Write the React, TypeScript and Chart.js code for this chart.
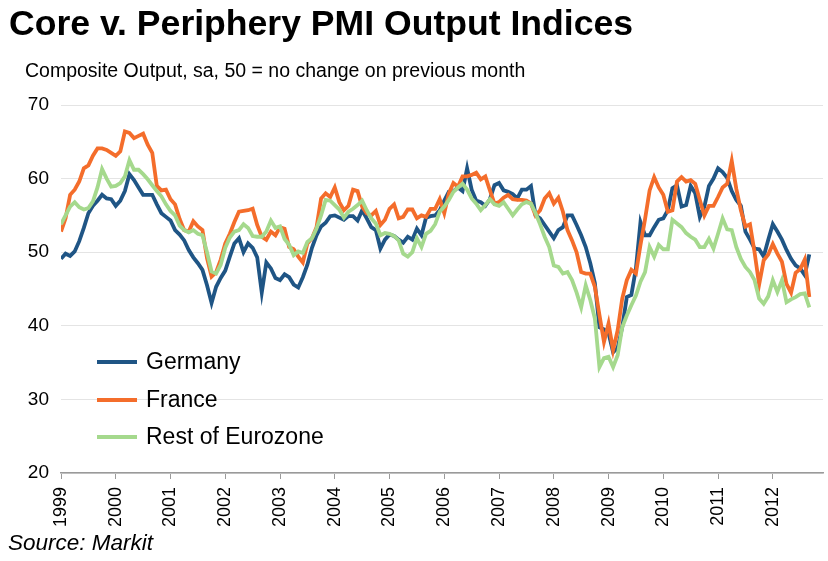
import React, { useEffect, useRef } from "react";
import { Chart, registerables } from "chart.js";

Chart.register(...registerables);

const FONT = "'Liberation Sans', Arial, Helvetica, sans-serif";

const yearLabels = ["1999", "2000", "2001", "2002", "2003", "2004", "2005", "2006", "2007", "2008", "2009", "2010", "2011", "2012"];
const seriesNames = ["Germany", "France", "Rest of Eurozone"];
const seriesColors = ["#1f5585", "#f46d2b", "#a5d98d"];

// Monthly values, Jan 1999 – Sep 2012
const germany = [
  49.1, 49.8, 49.5, 50.1, 51.5, 53.3, 55.3, 56.3, 57.0, 57.8, 57.3, 57.2,
  56.3, 57.0, 58.3, 60.6, 59.8, 58.8, 57.8, 57.8, 57.8, 56.5, 55.3, 54.8,
  54.3, 53.0, 52.4, 51.6, 50.3, 49.3, 48.5, 47.6, 45.5, 43.1, 45.3, 46.5,
  47.5, 49.4, 51.2, 51.9, 50.0, 51.2, 50.6, 49.3, 44.5, 48.6, 47.8, 46.5,
  46.2, 47.0, 46.6, 45.6, 45.2, 46.6, 48.3, 50.6, 52.3, 53.5, 54.0, 54.9,
  55.0, 54.7, 54.4, 54.9, 54.9, 54.3, 55.7, 54.6, 53.4, 53.0, 50.5, 51.7,
  52.4, 52.2, 51.7, 51.3, 52.1, 51.7, 53.2, 52.3, 54.7, 54.9, 55.0, 55.7,
  57.0, 58.2, 58.3, 58.8, 58.3, 61.4, 58.5, 57.0, 56.8, 56.3, 57.2, 59.1,
  59.4, 58.4, 58.2, 57.9, 57.3, 58.5, 58.5, 59.0, 55.0, 54.6, 53.7, 52.8,
  51.9, 53.0, 53.4, 55.0, 55.0, 53.7, 52.3, 50.7, 48.5, 45.8, 39.8, 39.5,
  39.0, 36.4, 37.0, 39.8, 43.9, 44.2, 47.8, 54.1, 52.3, 52.3, 53.4, 54.4,
  54.6, 55.7, 58.7, 59.1, 56.2, 56.4, 59.0, 58.0, 54.8, 56.2, 59.0, 60.0,
  61.4, 60.9, 60.1, 58.3, 57.1, 56.3, 52.8, 51.7, 50.5, 50.4, 49.4, 51.7,
  53.8, 52.8, 51.7, 50.3, 49.1, 48.2, 47.8, 46.9, 49.7,
];

const france = [
  52.8, 54.6, 57.8, 58.5, 59.6, 61.4, 61.8, 63.1, 64.1, 64.1, 63.9, 63.5,
  63.1, 63.7, 66.4, 66.2, 65.5, 65.8, 66.1, 64.6, 63.5, 59.0, 58.4, 58.5,
  57.2, 56.5, 54.5, 53.0, 52.8, 54.2, 53.5, 53.0, 49.2, 46.7, 47.3, 49.0,
  51.2, 52.5, 54.1, 55.5, 55.6, 55.7, 55.9, 53.7, 52.1, 51.7, 52.8, 52.3,
  53.4, 53.2, 50.7, 50.4, 49.4, 48.6, 51.2, 51.9, 53.4, 57.3, 58.0, 57.5,
  58.8, 56.8, 55.7, 56.3, 58.5, 58.3, 56.2, 55.3, 55.0, 55.6, 53.7, 54.4,
  55.9, 56.5, 54.6, 54.8, 55.8, 55.8, 54.6, 55.0, 54.8, 55.9, 55.9, 57.2,
  55.3, 58.0, 59.4, 58.9, 60.3, 60.3, 60.5, 60.8, 59.9, 60.3, 58.4, 56.6,
  56.8, 57.4, 57.8, 57.2, 57.1, 57.1, 57.0, 56.6, 55.0, 55.7, 57.3, 58.0,
  56.6, 57.4, 55.5, 53.0, 51.6, 50.0, 47.3, 47.1, 47.1, 45.3, 41.5, 37.8,
  40.3, 36.7, 39.4, 43.7, 46.2, 47.6, 47.1, 51.0, 54.5, 58.4, 60.2, 58.8,
  57.8, 55.5, 55.7, 59.6, 60.2, 59.6, 59.8, 59.3, 57.1, 55.0, 56.3, 56.3,
  57.5, 58.8, 59.3, 62.4, 58.6, 55.7, 53.5, 53.8, 50.0, 45.6, 48.9, 49.7,
  51.1, 49.8, 48.7, 45.7, 44.5, 47.2, 47.7, 49.0, 43.9,
];

const restOfEurozone = [
  53.8, 55.0, 56.2, 56.8, 56.1, 55.8, 56.0, 56.9, 58.8, 61.3, 60.0, 58.9,
  59.0, 59.4, 60.3, 62.5, 61.2, 61.2, 60.6, 59.9, 59.1, 58.3, 57.6, 56.5,
  55.6, 55.0, 53.6, 53.0, 52.7, 53.0, 52.5, 52.3, 50.0, 47.4, 47.1, 48.3,
  50.6, 52.0, 52.8, 53.0, 53.8, 53.3, 52.2, 52.1, 52.1, 52.8, 54.3, 53.3,
  53.5, 51.8, 51.0, 49.6, 50.1, 49.9, 51.4, 51.9, 53.2, 55.0, 57.1, 57.0,
  56.4, 55.8, 54.7, 55.5, 55.9, 56.4, 57.0, 55.7, 54.6, 53.9, 52.3, 52.6,
  52.5, 52.2, 51.6, 49.8, 49.4, 50.0, 51.9, 50.7, 52.5, 52.9, 53.8, 55.5,
  56.2, 57.1, 58.2, 58.8, 59.3, 58.5, 57.3, 56.6, 55.7, 56.4, 57.2, 56.5,
  56.3, 56.8, 55.9, 55.0, 55.8, 56.5, 56.8, 56.6, 55.3, 53.8, 52.1, 50.7,
  48.2, 48.0, 47.1, 47.3, 46.2, 44.5, 42.5, 45.5, 43.5, 41.0, 34.4, 35.6,
  35.8, 34.4, 36.0, 39.8, 41.4, 42.8, 44.1, 46.0, 47.3, 50.7, 49.4, 51.0,
  50.4, 50.4, 54.4, 53.9, 53.4, 52.6, 52.1, 51.7, 50.7, 50.7, 51.8, 50.5,
  52.5, 54.6, 53.1, 53.0, 50.7, 49.1, 48.0, 47.3, 46.2, 43.7, 43.0, 44.0,
  46.2, 44.6, 46.2, 43.2, 43.6, 43.9, 44.3, 44.4, 42.5,
];

const seriesValues = [germany, france, restOfEurozone];

export default function App() {
  const canvasRef = useRef<HTMLCanvasElement | null>(null);

  useEffect(() => {
    if (!canvasRef.current) return;
    const datasets = seriesValues.map((vals, s) => ({
      label: seriesNames[s],
      data: vals.map((v, i) => ({ x: i, y: v })),
      borderColor: seriesColors[s],
      backgroundColor: seriesColors[s],
      borderWidth: 3.8,
      pointRadius: 0,
      tension: 0,
      fill: false,
      order: 3 - s,
    }));
    const chart = new Chart(canvasRef.current, {
      type: "line",
      data: { datasets },
      options: {
        animation: false,
        responsive: false,
        devicePixelRatio: 1,
        layout: { padding: { top: 105, right: 5, left: 0, bottom: 0 } },
        plugins: { legend: { display: false }, tooltip: { enabled: false } },
        scales: {
          x: {
            type: "linear",
            min: 0,
            max: 167,
            afterFit: (s: any) => {
              s.height = 88;
            },
            grid: { drawOnChartArea: false, drawTicks: true, tickLength: 6, color: "#9a9a9a" },
            border: { color: "#9a9a9a", width: 1.5 },
            ticks: {
              stepSize: 12,
              includeBounds: false,
              autoSkip: false,
              minRotation: 90,
              maxRotation: 90,
              padding: 8,
              color: "#000",
              font: { family: FONT, size: 18 },
              callback: (v: any) => yearLabels[Math.round(Number(v) / 12)] ?? "",
            },
          },
          y: {
            min: 20,
            max: 70,
            afterFit: (s: any) => {
              s.width = 61;
            },
            grid: { color: "#e4e4e4", drawTicks: false },
            border: { display: false },
            ticks: { stepSize: 10, padding: 12, color: "#000", font: { family: FONT, size: 19 } },
          },
        },
      },
    });
    return () => chart.destroy();
  }, []);

  const legendTops = [350, 388, 425];

  return (
    <div style={{ position: "absolute", left: 0, top: 0, width: 828, height: 561, background: "#fff", overflow: "hidden", fontFamily: FONT }}>
      <canvas ref={canvasRef} width={828} height={561} style={{ position: "absolute", left: 0, top: 0, width: 828, height: 561 }} />
      <div style={{ position: "absolute", left: 9, top: 6, fontSize: 35.6, lineHeight: "35px", fontWeight: "bold", color: "#000", whiteSpace: "nowrap" }}>
        Core v. Periphery PMI Output Indices
      </div>
      <div style={{ position: "absolute", left: 25, top: 60, fontSize: 19.5, lineHeight: "20px", color: "#000", whiteSpace: "nowrap" }}>
        Composite Output, sa, 50 = no change on previous month
      </div>
      {seriesNames.map((name, i) => (
        <div key={name} style={{ position: "absolute", left: 97, top: legendTops[i], height: 23, display: "flex", alignItems: "center", whiteSpace: "nowrap" }}>
          <span style={{ display: "inline-block", width: 40, height: 4, background: seriesColors[i], marginRight: 9, marginTop: 1 }} />
          <span style={{ fontSize: 23, lineHeight: "23px", color: "#000" }}>{name}</span>
        </div>
      ))}
      <div style={{ position: "absolute", left: 8, top: 532, fontSize: 22.5, lineHeight: "22px", fontStyle: "italic", color: "#000", whiteSpace: "nowrap" }}>
        Source: Markit
      </div>
    </div>
  );
}
